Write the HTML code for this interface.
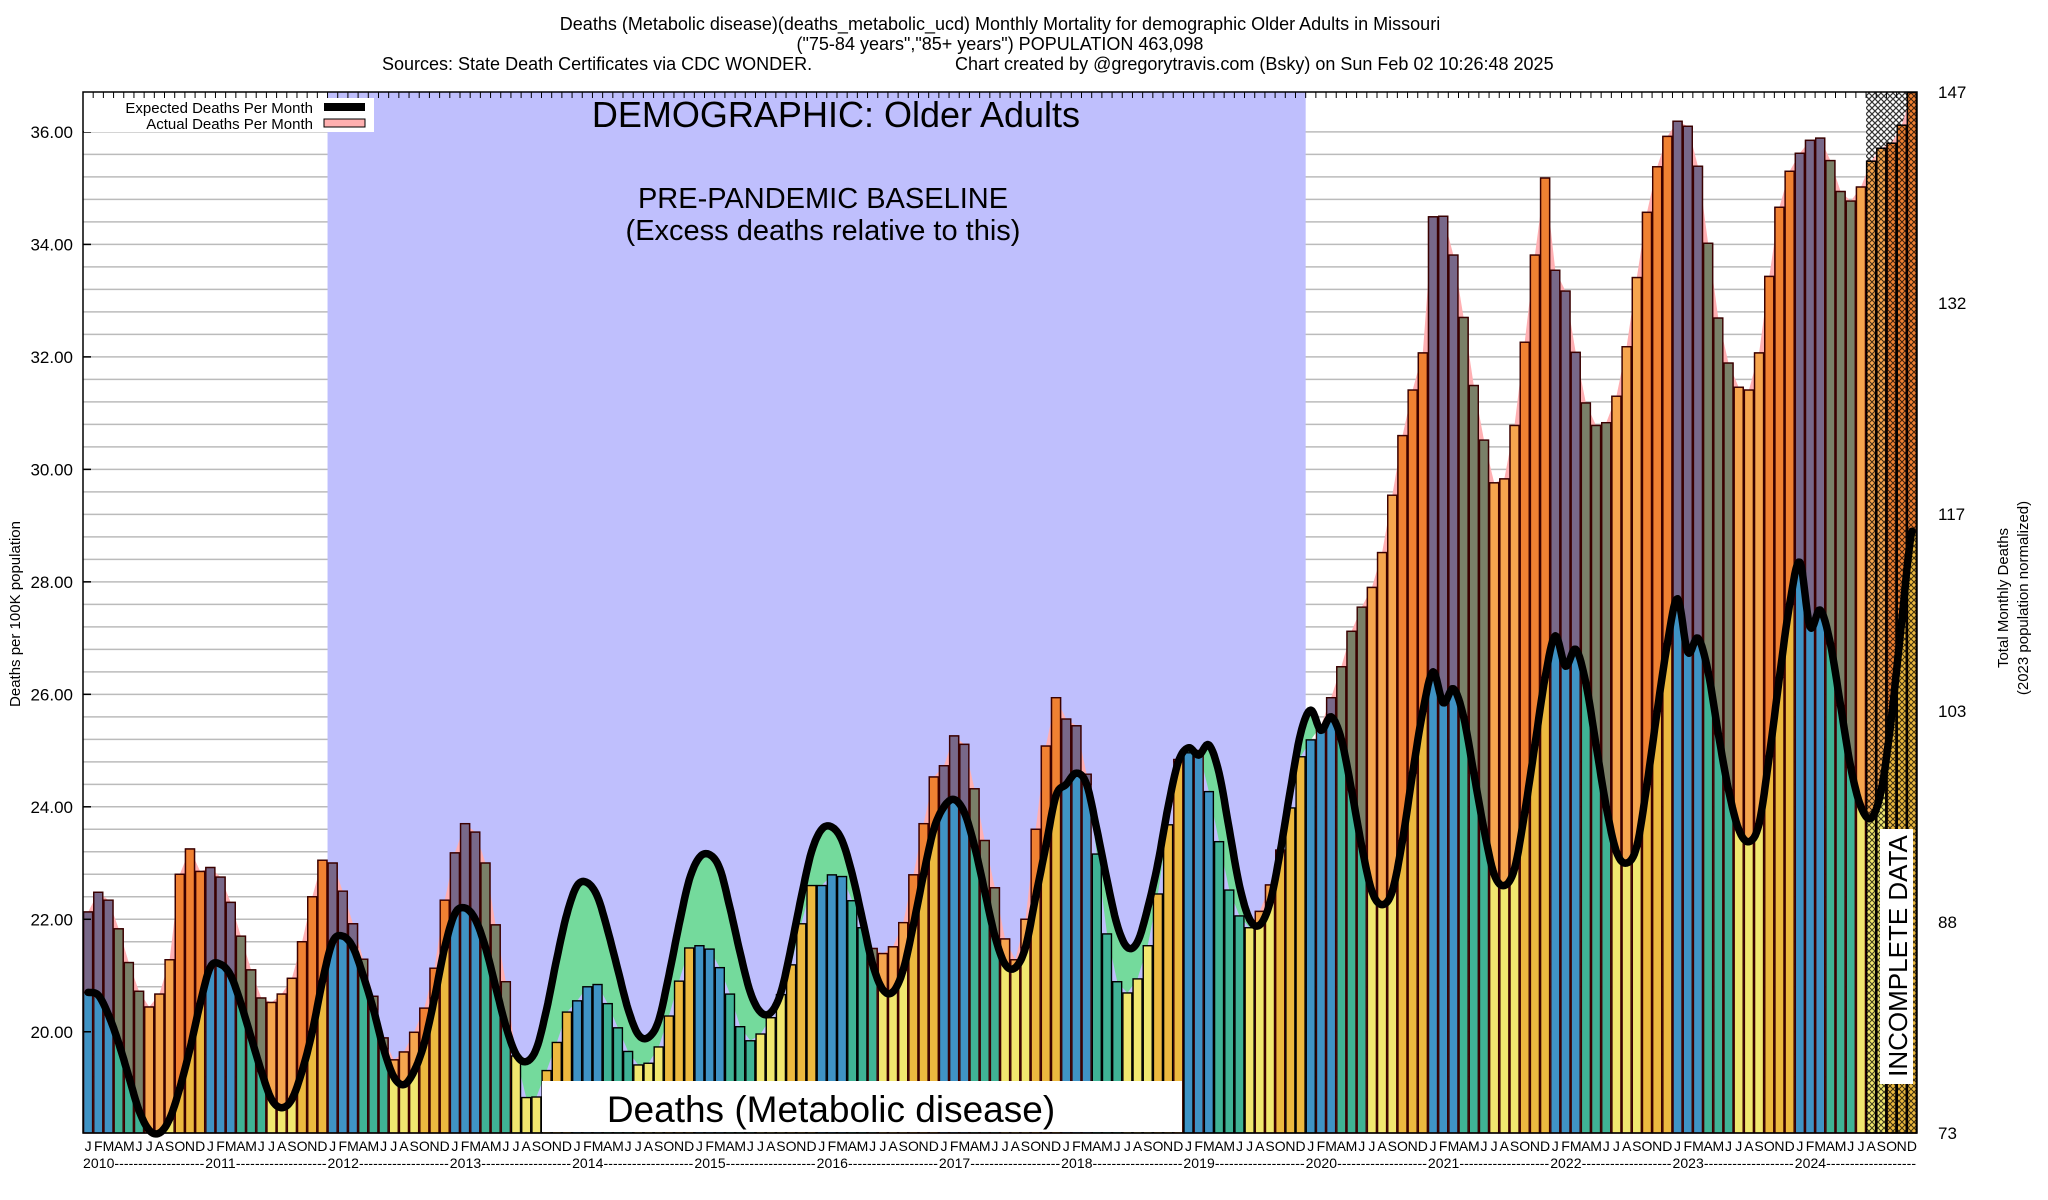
<!DOCTYPE html>
<html><head><meta charset="utf-8"><style>
html,body{margin:0;padding:0;background:#fff;}
svg{display:block;font-family:"Liberation Sans",Arial,sans-serif;}
</style></head><body>
<svg id="chart" width="2048" height="1200" viewBox="0 0 2048 1200" xmlns="http://www.w3.org/2000/svg">
<defs>
<pattern id="hatch" patternUnits="userSpaceOnUse" width="6" height="6">
<path d="M0,0 L6,6 M6,0 L0,6" stroke="#000" stroke-width="1" opacity="0.75"/>
</pattern>
<pattern id="checker" patternUnits="userSpaceOnUse" width="6" height="6">
<rect width="6" height="6" fill="#fff"/>
<path d="M0,0 L6,6 M6,0 L0,6" stroke="#333" stroke-width="1.2"/>
</pattern>
</defs>
<g id="title" font-size="18" fill="#000">
<text x="1000" y="30" text-anchor="middle">Deaths (Metabolic disease)(deaths_metabolic_ucd) Monthly Mortality for demographic Older Adults in Missouri</text>
<text x="1000" y="50" text-anchor="middle">("75-84 years","85+ years") POPULATION 463,098</text>
<text x="382" y="70">Sources: State Death Certificates via CDC WONDER.</text>
<text x="955" y="70">Chart created by @gregorytravis.com (Bsky) on Sun Feb 02 10:26:48 2025</text>
</g>
<g id="grid"></g>
<g id="bg"></g>
<g id="fills"></g>
<g id="bars"></g>
<g id="line"></g>
<g id="axes"></g>
<g id="annot"></g>
</svg>
<script>
const months = ["J","F","M","A","M","J","J","A","S","O","N","D"];
const years = [2010,2011,2012,2013,2014,2015,2016,2017,2018,2019,2020,2021,2022,2023,2024];
const actual = [
22.13,22.48,22.34,21.83,21.23,20.72,20.44,20.67,21.28,22.8,23.25,22.85,
22.92,22.75,22.3,21.7,21.1,20.6,20.52,20.67,20.95,21.6,22.4,23.05,
23.0,22.5,21.92,21.29,20.63,19.89,19.5,19.64,19.99,20.42,21.13,22.34,
23.18,23.7,23.55,23.0,21.9,20.89,19.57,18.83,18.84,19.31,19.81,20.35,
20.55,20.8,20.84,20.5,20.07,19.65,19.41,19.44,19.73,20.28,20.9,21.49,
21.53,21.47,21.14,20.67,20.09,19.84,19.96,20.25,20.66,21.19,21.92,22.6,
22.6,22.79,22.76,22.33,21.85,21.48,21.39,21.51,21.94,22.79,23.7,24.53,
24.73,25.26,25.11,24.32,23.4,22.56,21.65,21.28,22.0,23.6,25.08,25.94,
25.56,25.44,24.58,23.16,21.74,20.89,20.69,20.94,21.53,22.45,23.68,24.84,
24.96,25.0,24.27,23.38,22.52,22.06,21.85,22.14,22.61,23.23,23.98,24.89,
25.19,25.44,25.94,26.49,27.12,27.55,27.9,28.52,29.54,30.6,31.41,32.07,
34.49,34.5,33.81,32.7,31.49,30.52,29.76,29.83,30.78,32.26,33.81,35.18,
33.54,33.17,32.08,31.18,30.78,30.83,31.3,32.18,33.41,34.57,35.38,35.92,
36.19,36.1,35.39,34.02,32.69,31.89,31.46,31.41,32.07,33.43,34.66,35.3,
35.62,35.85,35.89,35.49,34.94,34.77,35.02,35.48,35.71,35.8,36.12,36.7
];
const expected = [
20.7,20.65,20.3,19.8,19.2,18.6,18.25,18.2,18.45,19.0,19.7,20.5,
21.15,21.2,21.0,20.5,19.9,19.3,18.8,18.65,18.8,19.3,20.0,20.9,
21.6,21.7,21.5,21.0,20.4,19.7,19.2,19.06,19.3,19.8,20.6,21.5,
22.1,22.2,22.0,21.5,20.8,20.1,19.6,19.47,19.7,20.4,21.3,22.1,
22.6,22.65,22.4,21.8,21.1,20.4,19.95,19.9,20.2,21.0,21.9,22.7,
23.1,23.15,22.9,22.2,21.4,20.7,20.35,20.34,20.7,21.5,22.4,23.2,
23.6,23.64,23.4,22.8,22.0,21.2,20.75,20.71,21.1,21.9,22.8,23.6,
24.0,24.13,23.9,23.3,22.5,21.7,21.2,21.14,21.5,22.4,23.3,24.2,
24.4,24.6,24.4,23.6,22.7,21.9,21.5,21.6,22.2,23.0,24.0,24.8,
25.05,24.92,25.1,24.6,23.6,22.6,22.0,21.9,22.3,23.2,24.3,25.3,
25.72,25.36,25.6,25.2,24.3,23.3,22.5,22.26,22.5,23.4,24.6,25.7,
26.4,25.85,26.1,25.6,24.6,23.6,22.8,22.6,22.9,23.9,25.1,26.3,
27.04,26.5,26.8,26.2,25.1,24.0,23.2,23.0,23.3,24.4,25.7,26.9,
27.7,26.75,27.0,26.4,25.3,24.3,23.6,23.38,23.7,24.9,26.3,27.6,
28.35,27.2,27.5,26.9,25.8,24.7,24.0,23.8,24.3,25.6,27.3,28.9
];
const leftTicks = [20,22,24,26,28,30,32,34,36];
const rightTicks = [73,88,103,117,132,147];
const incompleteStart = 175;
const baselineStart = 24, baselineEnd = 120;

const NS = "http://www.w3.org/2000/svg";
const L = 83, R = 1917, T = 92, B = 1133;
const VMAX = 36.71, VMIN = 18.2;
const N = actual.length;
const BW = (R - L) / N;
function xL(i){ return L + i * BW; }
function xC(i){ return L + (i + 0.5) * BW; }
function yV(v){ return B - (v - VMIN) / (VMAX - VMIN) * (B - T); }
function yR(r){ return yV(VMIN + (r - 73) / 74 * (VMAX - VMIN)); }
function mk(tag, attrs, parent){
  const e = document.createElementNS(NS, tag);
  for (const k in attrs) e.setAttribute(k, attrs[k]);
  parent.appendChild(e);
  return e;
}
const gGrid = document.getElementById("grid");
const gBg = document.getElementById("bg");
const gFills = document.getElementById("fills");
const gBars = document.getElementById("bars");
const gLine = document.getElementById("line");
const gAxes = document.getElementById("axes");
const gAnn = document.getElementById("annot");

const plotBg = mk("rect", {x:L, y:T, width:R-L, height:B-T, fill:"#fff"}, gGrid);


for (let v = 36; v > VMIN + 0.05; v -= 0.4) {
  const gl = mk("line", {x1:L, x2:R, y1:yV(v), y2:yV(v), stroke:"#bbb", "stroke-width":1.5}, gGrid);
  
  
}
const base = mk("rect", {x:xL(baselineStart), y:T, width:xL(baselineEnd)-xL(baselineStart), height:B-T, fill:"#bfbffd"}, gBg);


const chk = mk("rect", {x:xL(incompleteStart), y:T, width:R-xL(incompleteStart), height:B-T, fill:"url(#checker)"}, gBg);



// smooth expected curve points (Catmull-Rom sampling)
const ePts = [];
for (let i = 0; i < N - 1; i++) {
  const p0 = expected[Math.max(i-1,0)], p1 = expected[i], p2 = expected[i+1], p3 = expected[Math.min(i+2,N-1)];
  for (let s = 0; s < 8; s++) {
    const t = s / 8, t2 = t*t, t3 = t2*t;
    const v = 0.5*((2*p1) + (-p0+p2)*t + (2*p0-5*p1+4*p2-p3)*t2 + (-p0+3*p1-3*p2+p3)*t3);
    ePts.push([xC(i + t), yV(v)]);
  }
}
ePts.push([xC(N-1), yV(expected[N-1])]);
const ePath = ePts.map((p,k)=>(k?"L":"M")+p[0].toFixed(1)+","+p[1].toFixed(1)).join(" ");
const aPts = actual.map((v,i)=>[xC(i), yV(v)]);

// clip paths
const defs = document.querySelector("defs");
const cpBelow = mk("clipPath", {id:"belowE"}, defs);
mk("path", {d: ePath + ` L${xC(N-1)},${B} L${xC(0)},${B} Z`}, cpBelow);
const cpAbove = mk("clipPath", {id:"aboveE"}, defs);
mk("path", {d: ePath + ` L${xC(N-1)},${T} L${xC(0)},${T} Z`}, cpAbove);
const between = ePath + " " + aPts.slice().reverse().map(p=>"L"+p[0].toFixed(1)+","+p[1].toFixed(1)).join(" ") + " Z";
const gf = mk("path", {d: between, fill:"#74da9c", "clip-path":"url(#belowE)"}, gFills);


const pf = mk("path", {d: between, fill:"#ffb0b3", "clip-path":"url(#aboveE)"}, gFills);



const seasonCol = ["#3f93c5","#3fb395","#f1e76f","#ecb93f"];
const excessCol = ["#786889","#7a8068","#f6a54e","#f08132"];
for (let i = 0; i < N; i++) {
  const m = i % 12, q = Math.floor(m / 3);
  const a = actual[i], e = expected[i];
  const g = mk("g", {}, gBars);
  
  
  const over = a > e;
  const r1 = mk("rect", {x:xL(i)+0.6, y:yV(a), width:BW-1.2, height:B-yV(a), fill:seasonCol[q], stroke: over ? "#3a0000" : "#000", "stroke-width":1.4}, g);
  
  
  if (over) {
    const r2 = mk("rect", {x:xL(i)+0.6, y:yV(a), width:BW-1.2, height:yV(e)-yV(a), fill:excessCol[q], stroke:"#3a0000", "stroke-width":1.4}, g);
    
    
  }
  if (i >= incompleteStart) {
    const h = mk("rect", {x:xL(i)+0.6, y:yV(a), width:BW-1.2, height:B-yV(a), fill:"url(#hatch)", stroke:"#000", "stroke-width":1.4}, g);
    
    
  }
}
const eLine = mk("path", {d:ePath, fill:"none", stroke:"#000", "stroke-width":7.5, "stroke-linejoin":"round", "stroke-linecap":"round"}, gLine);



// axes frame
const frame = mk("rect", {x:L, y:T, width:R-L, height:B-T, fill:"none", stroke:"#000", "stroke-width":1.5}, gAxes);


for (let i = 0; i <= N; i++) {
  const tk = mk("line", {x1:xL(i), x2:xL(i), y1:T, y2:T+6, stroke:"#000", "stroke-width":1}, gAxes);
  
  
}
leftTicks.forEach(v => {
  const t = mk("text", {x:73, y:yV(v)+6, "text-anchor":"end", "font-size":17}, gAxes);
  t.textContent = v.toFixed(2);
  
  
  const tk = mk("line", {x1:L, x2:L+8, y1:yV(v), y2:yV(v), stroke:"#000", "stroke-width":1.5}, gAxes);
  
  
});
rightTicks.forEach(r => {
  const t = mk("text", {x:1938, y:yR(r)+6, "font-size":17}, gAxes);
  t.textContent = r;
  
  
});
for (let i = 0; i < N; i++) {
  const t = mk("text", {x:xC(i), y:1151, "text-anchor":"middle", "font-size":14}, gAxes);
  t.textContent = months[i % 12];
  
  
}
years.forEach((yr, k) => {
  const t = mk("text", {x:xL(k*12), y:1168, "font-size":14, textLength:BW*12-1, lengthAdjust:"spacing"}, gAxes);
  t.textContent = yr + "-------------------";
  
  
});
</script>
<svg style="position:absolute;left:0;top:0" width="2048" height="1200" xmlns="http://www.w3.org/2000/svg">
<g font-family="Liberation Sans, Arial, sans-serif">
<text transform="translate(20,614) rotate(-90)" text-anchor="middle" font-size="15">Deaths per 100K population</text>
<text transform="translate(2008,598) rotate(-90)" text-anchor="middle" font-size="15">Total Monthly Deaths</text>
<text transform="translate(2028,598) rotate(-90)" text-anchor="middle" font-size="15">(2023 population normalized)</text>
<g>
<rect x="84" y="98" width="290" height="34" fill="#fff"/>
<text x="313" y="113" text-anchor="end" font-size="15">Expected Deaths Per Month</text>
<rect x="324" y="103" width="41" height="8" fill="#000"/>
<text x="313" y="129" text-anchor="end" font-size="15">Actual Deaths Per Month</text>
<rect x="324" y="119" width="41" height="8" fill="#ffb0b0" stroke="#000" stroke-width="1"/>
</g>
<text x="836" y="127" text-anchor="middle" font-size="36">DEMOGRAPHIC: Older Adults</text>
<text x="823" y="208" text-anchor="middle" font-size="29">PRE-PANDEMIC BASELINE</text>
<text x="823" y="240" text-anchor="middle" font-size="29">(Excess deaths relative to this)</text>
<rect x="542" y="1081" width="640" height="51" fill="#fff"/>
<text x="831" y="1122" text-anchor="middle" font-size="37">Deaths (Metabolic disease)</text>
<rect x="1880" y="829" width="33" height="255" fill="#fff"/>
<text transform="translate(1907,956) rotate(-90)" text-anchor="middle" font-size="26">INCOMPLETE DATA</text>
</g>
</svg>
</body></html>
